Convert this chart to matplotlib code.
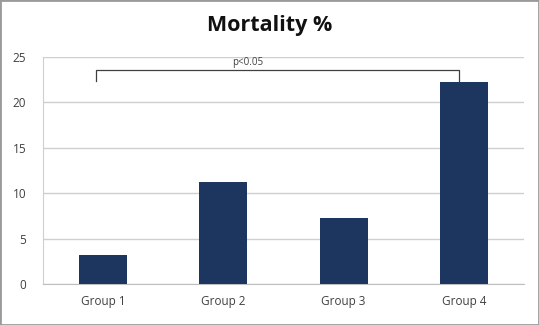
import numpy as np
import matplotlib.pyplot as plt
from matplotlib.patches import Rectangle

plt.rcParams['font.family'] = ['Open Sans', 'DejaVu Sans']

groups = ["Group 1", "Group 2", "Group 3", "Group 4"]
mortality = [3.2, 11.2, 7.3, 22.2]
yticks = [0, 5, 10, 15, 20, 25]

fig = plt.figure(figsize=(5.39, 3.25), dpi=100)
ax = fig.add_axes([43/539, 41/325, 481/539, 227/325])

x = np.arange(len(groups))
ax.bar(x, mortality, width=0.4, color="#1c3660", zorder=3)

ax.set_xlim(-0.5, len(groups) - 0.5)
ax.set_ylim(0, 25)
ax.set_yticks(yticks)
ax.set_xticks(x)
ax.set_xticklabels(groups)
ax.yaxis.grid(True, color="#cfcfcf", linewidth=1.0, zorder=0)
ax.tick_params(length=0, labelsize=8.5, colors="#404040", pad=8)
ax.tick_params(axis="y", pad=12)
for s in ["top", "right"]:
    ax.spines[s].set_visible(False)
ax.spines["left"].set_color("#cfcfcf")
ax.spines["bottom"].set_color("#bfbfbf")

# significance bracket between group 1 and group 4
ax.plot([-0.06, -0.06, 2.96, 2.96], [22.4, 23.6, 23.6, 22.4],
        color="#404040", linewidth=0.9, zorder=4)
ax.text(1.2, 23.8, "p<0.05", ha="center", va="bottom", fontsize=7, color="#404040")

fig.text(0.5, 1 - 26/325, "Mortality %", ha="center", va="center",
         fontsize=15.5, fontweight="bold", color="#111111")

fig.patches.append(Rectangle((0, 0), 1, 1, transform=fig.transFigure, fill=False,
                             edgecolor="#9a9a9a", linewidth=2))

fig.savefig("out.png", dpi=100)
